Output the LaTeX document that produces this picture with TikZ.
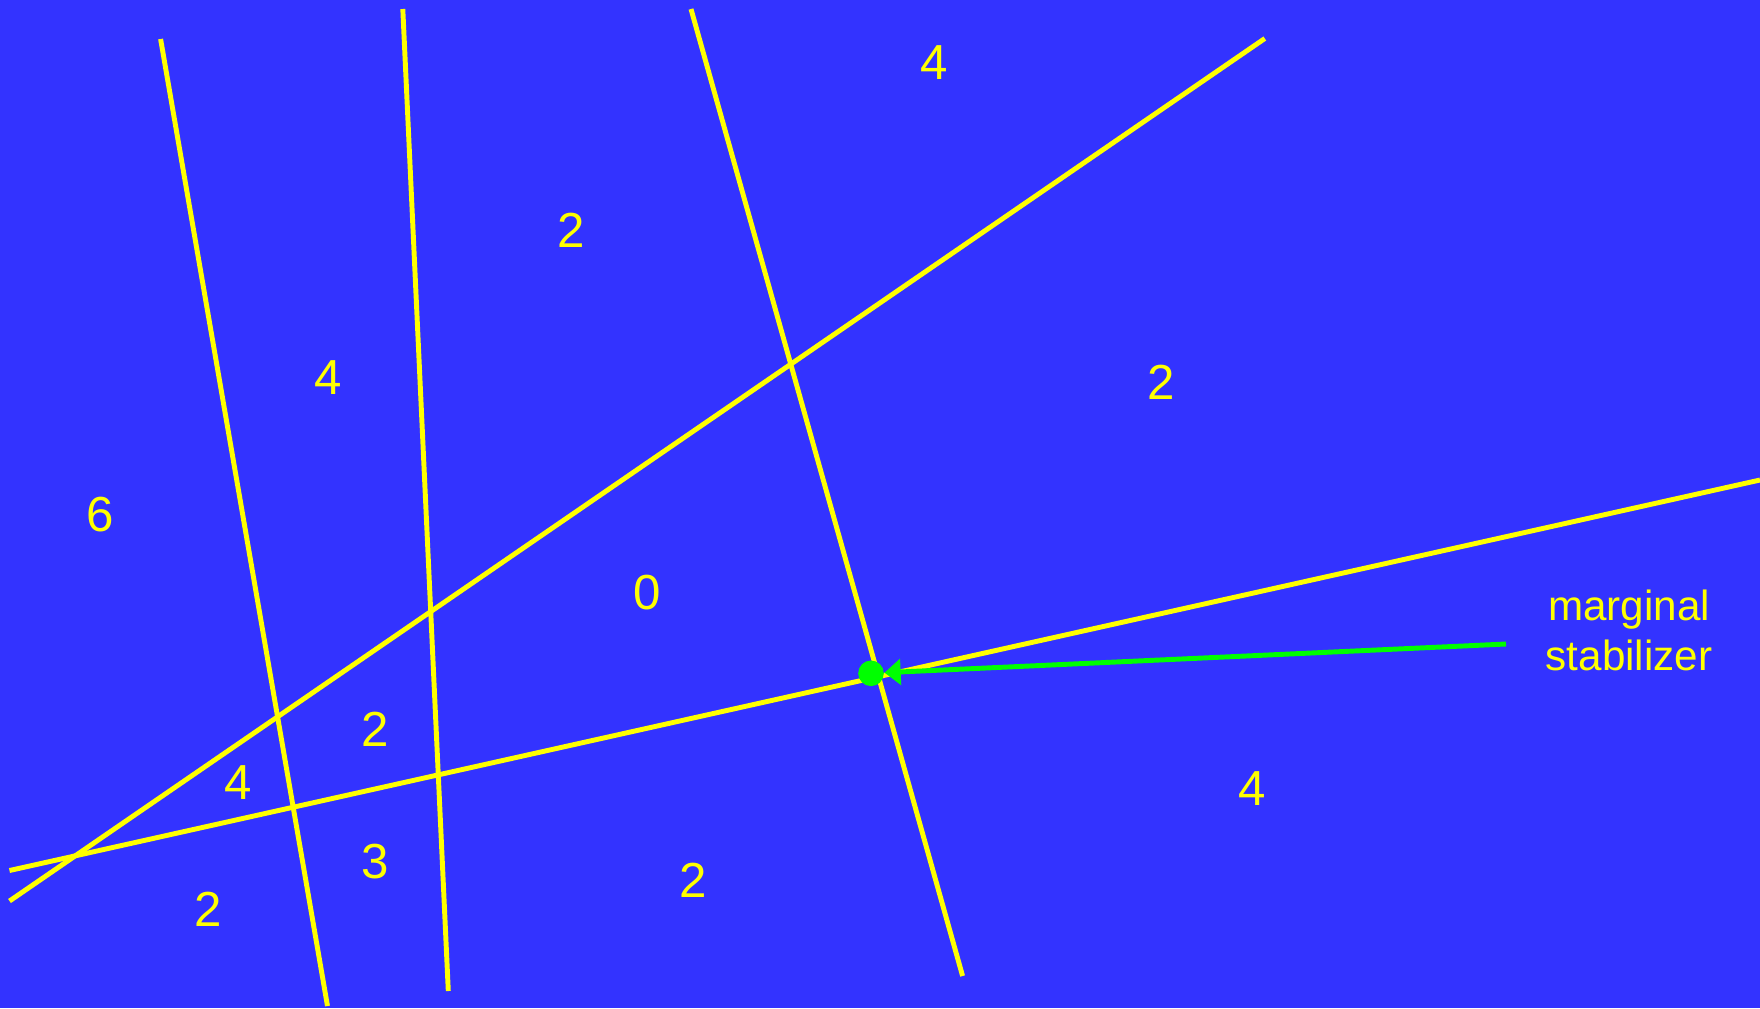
\documentclass[tikz,border=0pt]{standalone}
\usepackage{fontspec}
\setmainfont{Liberation Sans}
\usetikzlibrary{arrows.meta}
\definecolor{field}{HTML}{3333FF}
\definecolor{wallc}{HTML}{FFFF00}
\definecolor{margc}{HTML}{00FF00}

\begin{document}
\begin{tikzpicture}[
  x=0.01cm, y=-0.01cm,
  line join=round,
  wall/.style={wallc, line width=1.4pt},
  count/.style={text=wallc, inner sep=0pt, font=\fontsize{14}{16}\selectfont},
  note/.style={text=wallc, inner sep=0pt, align=center, font=\fontsize{12}{14.2}\selectfont},
]

% ── the field ─────────────────────────────────────────────────────────────
\fill[field] (0,0) rectangle (1760,1008);
\useasboundingbox (0,0) rectangle (1760,1008);

% ── the five walls ────────────────────────────────────────────────────────
\draw[wall] (160.6,39) -- (327.5,1006);
\draw[wall] (402.8,9) -- (448.3,991);
\draw[wall] (691,9) -- (962.6,976);
\draw[wall] (9.5,901) -- (1264.8,38.5);
\draw[wall] (9.5,870.5) -- (1760,480);

% ── counts in the cells ───────────────────────────────────────────────────
\node[count] (c1) at (934,63) {4};
\node[count] (c2) at (571,230) {2};
\node[count] (c3) at (328,378) {4};
\node[count] (c4) at (1161,382) {2};
\node[count] (c5) at (100,515) {6};
\node[count] (c6) at (647,593) {0};
\node[count] (c7) at (375,729) {2};
\node[count] (c8) at (238,783) {4};
\node[count] (c9) at (1252,789) {4};
\node[count] (c10) at (375,862) {3};
\node[count] (c11) at (693,880) {2};
\node[count] (c12) at (208,909) {2};

% ── the marginal point and its pointer ────────────────────────────────────
\node[circle, fill=margc, inner sep=0pt, minimum size=0.256cm] (mdot) at (871,673.3) {};
\coordinate (mtail) at (1506,644);
\draw[margc, line width=1.4pt, -{Triangle[length=4.6pt, width=7.3pt]}] (mtail) -- (mdot);
\node[note] (mlabel) at (1629,630) {marginal\\stabilizer};

\end{tikzpicture}
\end{document}
